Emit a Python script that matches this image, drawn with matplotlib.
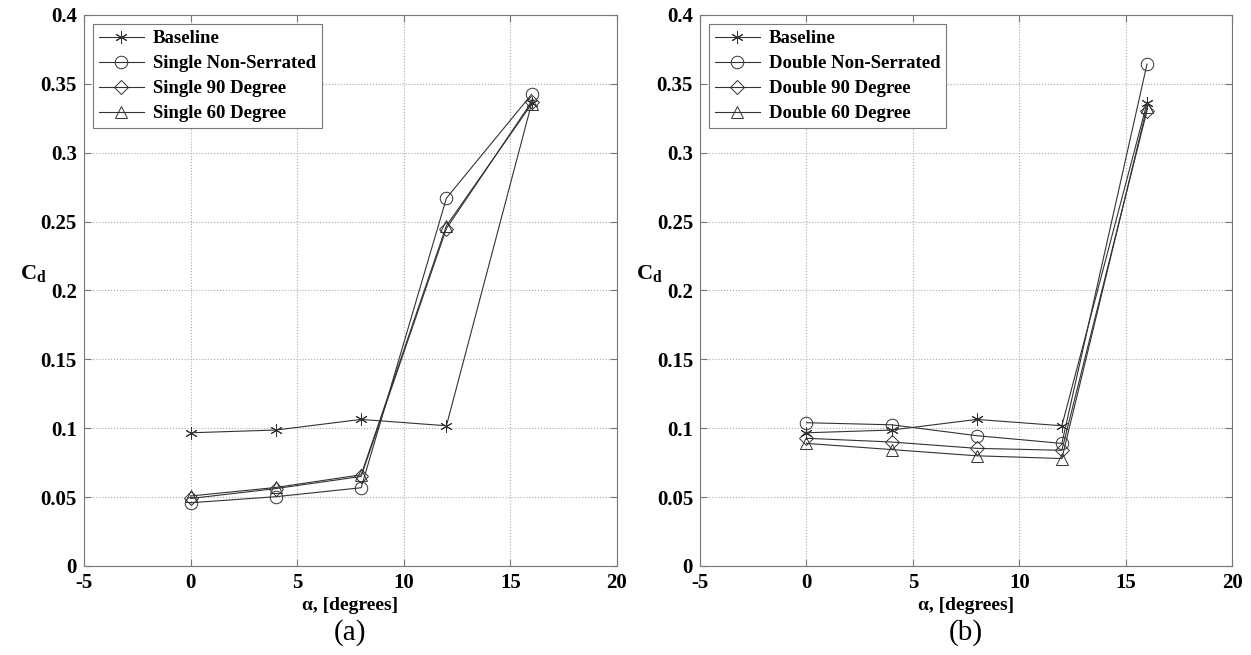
import numpy as np
import matplotlib.pyplot as plt

# ---------- Data ---------- #
alpha = [0, 4, 8, 12, 16]

baseline = [0.0967, 0.0987, 0.1064, 0.1018, 0.3360]

single_nonserr = [0.0459, 0.0503, 0.0568, 0.2670, 0.3425]
single_90 = [0.0490, 0.0562, 0.0650, 0.2450, 0.3370]
single_60 = [0.0508, 0.0570, 0.0662, 0.2470, 0.3355]

double_nonserr = [0.1040, 0.1025, 0.0946, 0.0890, 0.3643]
double_90 = [0.0927, 0.0900, 0.0854, 0.0840, 0.3305]
double_60 = [0.0890, 0.0845, 0.0800, 0.0780, 0.3330]

labels_a = ["Baseline", "Single Non-Serrated", "Single 90 Degree", "Single 60 Degree"]
labels_b = ["Baseline", "Double Non-Serrated", "Double 90 Degree", "Double 60 Degree"]

xticks = [-5, 0, 5, 10, 15, 20]
yticks = [0, 0.05, 0.1, 0.15, 0.2, 0.25, 0.3, 0.35, 0.4]
ytick_labels = ["0", "0.05", "0.1", "0.15", "0.2", "0.25", "0.3", "0.35", "0.4"]

plt.rcParams['font.family'] = ['Liberation Serif', 'DejaVu Serif']
plt.rcParams['axes.unicode_minus'] = False
plt.rcParams['mathtext.fontset'] = 'custom'
plt.rcParams['mathtext.rm'] = 'Liberation Serif'
plt.rcParams['mathtext.bf'] = 'Liberation Serif:bold'

markers = [(6, 2, 0), 'o', 'D', '^']
msizes = [9, 9, 7, 9]
line_col = '#333333'


def draw_panel(ax, series, labels, tag):
    for y, lab, mk, ms in zip(series, labels, markers, msizes):
        ax.plot(alpha, y, color=line_col, lw=0.8, marker=mk, markersize=ms,
                markerfacecolor='none', markeredgecolor=line_col,
                markeredgewidth=0.7, label=lab)
    ax.set_xlim(-5, 20)
    ax.set_ylim(0, 0.4)
    ax.set_xticks(xticks)
    ax.set_xticklabels([str(t) for t in xticks])
    ax.set_yticks(yticks)
    ax.set_yticklabels(ytick_labels)
    ax.tick_params(direction='in', length=5, width=0.8, color='#777777',
                   labelsize=15, pad=5, top=True, right=True)
    for lbl in ax.get_xticklabels() + ax.get_yticklabels():
        lbl.set_fontweight('bold')
    ax.grid(True, linestyle=':', color='#aaaaaa', lw=0.8)
    for sp in ax.spines.values():
        sp.set_color('#777777')
        sp.set_linewidth(0.8)
    ax.set_xlabel("α, [degrees]", fontsize=14, fontweight='bold', labelpad=3)
    ax.set_ylabel(r"$\mathbf{C}_{\mathbf{d}}$", fontsize=16, rotation=0)
    ax.yaxis.set_label_coords(-0.095, 0.51)
    ax.text(0.5, -0.12, tag, transform=ax.transAxes, ha='center', va='center',
            fontsize=21)
    leg = ax.legend(loc='upper left', bbox_to_anchor=(0.017, 0.983), fancybox=False,
                    framealpha=1, edgecolor='#777777', handlelength=2.4,
                    prop={'weight': 'bold', 'size': 13.5}, borderpad=0.3,
                    labelspacing=0.42, handletextpad=0.5, borderaxespad=0)
    leg.get_frame().set_linewidth(0.8)


fig = plt.figure(figsize=(12.51, 6.55), dpi=100)
ax1 = fig.add_axes([0.0671, 0.1359, 0.4261, 0.8412])
ax2 = fig.add_axes([0.5596, 0.1359, 0.4253, 0.8412])

draw_panel(ax1, [baseline, single_nonserr, single_90, single_60], labels_a, "(a)")
draw_panel(ax2, [baseline, double_nonserr, double_90, double_60], labels_b, "(b)")

fig.savefig("out.png", dpi=100)
